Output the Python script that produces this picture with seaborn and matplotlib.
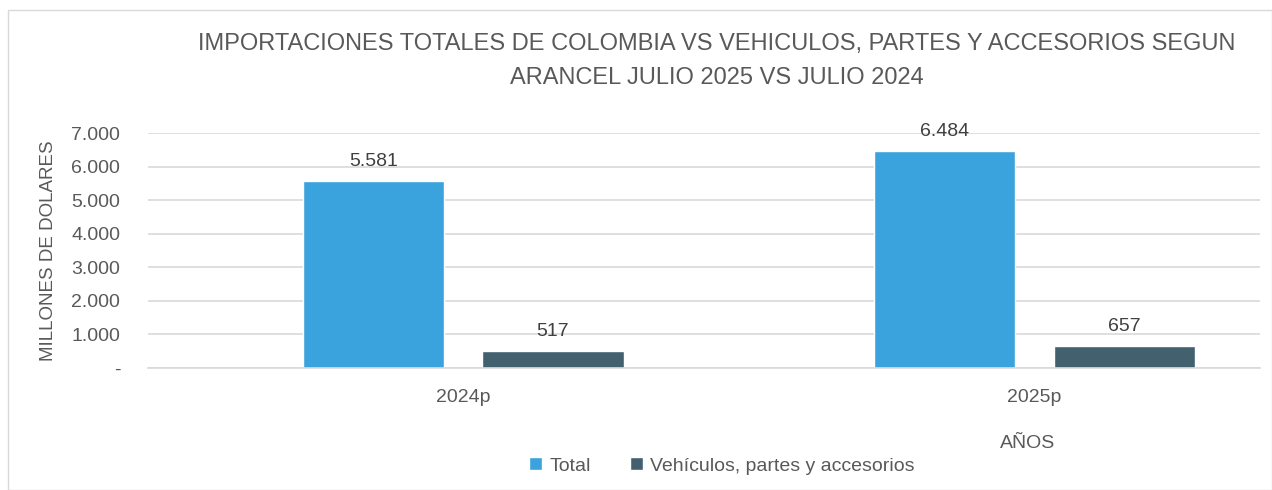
import numpy as np
import pandas as pd
import matplotlib.pyplot as plt
import seaborn as sns
from matplotlib.patches import Rectangle

# data (millones de dolares)
years = ["2024p", "2025p"]
series = ["Total", "Vehículos, partes y accesorios"]
total = [5581, 6484]
vehiculos = [517, 657]
colors = ["#3AA3DD", "#42606E"]

df = pd.DataFrame({
    "year": years * 2,
    "serie": [series[0]] * 2 + [series[1]] * 2,
    "valor": total + vehiculos,
})

sns.set_theme(style="white")
plt.rcParams["font.family"] = ["Liberation Sans", "DejaVu Sans"]
txt = "#595959"

fig = plt.figure(figsize=(12.72, 4.9), dpi=100)
ax = fig.add_axes([0.1164, 0.249, 0.8742, 0.4786])

sns.barplot(data=df, x="year", y="valor", hue="serie", palette=colors,
            saturation=1, width=0.628, gap=0.213, ax=ax, legend=True)

ax.set_ylim(0, 7000)
ax.set_xlim(-0.552, 1.395)
ax.set_yticks(range(0, 7001, 1000))
ax.set_yticklabels(["-"] + [f"{v:,}".replace(",", ".") for v in range(1000, 7001, 1000)])
ax.yaxis.grid(True, color="#D9D9D9", linewidth=1.2)
ax.set_axisbelow(True)
for s in ["top", "right", "left"]:
    ax.spines[s].set_visible(False)
ax.spines["bottom"].set_color("#D9D9D9")
ax.spines["bottom"].set_linewidth(1.2)
ax.tick_params(axis="both", length=0, labelsize=14, colors=txt)
ax.tick_params(axis="x", pad=15)
ax.tick_params(axis="y", pad=20)

for cont in ax.containers:
    labels = [f"{v:,.0f}".replace(",", ".") for v in cont.datavalues]
    ax.bar_label(cont, labels=labels, padding=8, fontsize=14, color="#404040")

ax.set_xlabel("")
ax.set_ylabel("MILLONES DE DOLARES", fontsize=13.5, color=txt, labelpad=10)
fig.text(1028 / 1272, 1 - 443 / 490, "AÑOS", fontsize=14, color=txt,
         ha="center", va="center")

fig.text(717 / 1272, 1 - 61 / 490,
         "IMPORTACIONES TOTALES DE COLOMBIA VS VEHICULOS, PARTES Y ACCESORIOS SEGUN\nARANCEL JULIO 2025 VS JULIO 2024",
         fontsize=17, color=txt, ha="center", va="center", linespacing=1.65)

leg = ax.legend(loc="center", bbox_to_anchor=(722 / 1272, 1 - 466 / 490),
                bbox_transform=fig.transFigure, ncol=2, frameon=False,
                fontsize=14, handlelength=0.65, handleheight=0.65,
                handletextpad=0.4, columnspacing=2.0)
for t in leg.get_texts():
    t.set_color(txt)

fig.patches.append(Rectangle((8 / 1272, 0), 1 - 8 / 1272, 1 - 10 / 490,
                             transform=fig.transFigure, fill=False,
                             edgecolor="#D9D9D9", linewidth=1))

fig.savefig("out.png", dpi=100)
